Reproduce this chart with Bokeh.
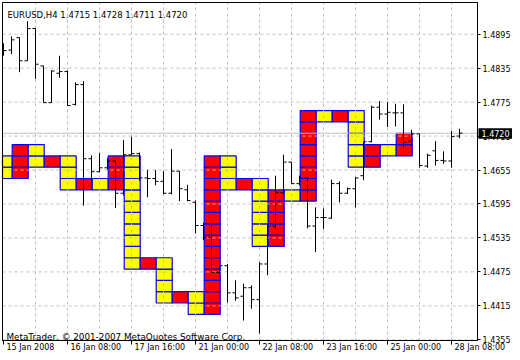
from bokeh.plotting import figure
from bokeh.models import Range1d, FixedTicker, PrintfTickFormatter, Label, LabelSet, ColumnDataSource, LinearAxis
from bokeh.core.properties import value
from bokeh.embed import file_html
from bokeh.resources import INLINE

# ---------------- data ----------------
symbol_caption = "EURUSD,H4  1.4715 1.4728 1.4711 1.4720"
copyright_text = "MetaTrader, \u00a9 2001-2007 MetaQuotes Software Corp."
last_price = 1.4720

opens = [1.4870, 1.4867, 1.4889, 1.4848, 1.4905, 1.4839, 1.4774, 1.4826, 1.4829, 1.4771,
         1.4806, 1.4675, 1.4652, 1.4659, 1.4671, 1.4614, 1.4682, 1.4684, 1.4641, 1.4640,
         1.4635, 1.4614, 1.4653, 1.4620, 1.4598, 1.4557, 1.4536, 1.4474, 1.4486, 1.4438,
         1.4432, 1.4447, 1.4426, 1.4489, 1.4556, 1.4615, 1.4669, 1.4631, 1.4641, 1.4556,
         1.4571, 1.4570, 1.4631, 1.4614, 1.4622, 1.4645, 1.4705, 1.4766, 1.4754, 1.4756,
         1.4756, 1.4706, 1.4719, 1.4662, 1.4689, 1.4672, 1.4671, 1.4715]
highs = [1.4879, 1.4891, 1.4889, 1.4918, 1.4905, 1.4839, 1.4831, 1.4857, 1.4831, 1.4810,
         1.4812, 1.4681, 1.4685, 1.4676, 1.4673, 1.4708, 1.4714, 1.4686, 1.4655, 1.4655,
         1.4653, 1.4692, 1.4653, 1.4629, 1.4601, 1.4562, 1.4561, 1.4488, 1.4489, 1.4460,
         1.4454, 1.4451, 1.4492, 1.4557, 1.4645, 1.4682, 1.4669, 1.4645, 1.4641, 1.4589,
         1.4587, 1.4638, 1.4635, 1.4624, 1.4642, 1.4705, 1.4769, 1.4777, 1.4775, 1.4772,
         1.4771, 1.4726, 1.4719, 1.4684, 1.4706, 1.4688, 1.4724, 1.4728]
lows = [1.4857, 1.4860, 1.4828, 1.4848, 1.4816, 1.4774, 1.4774, 1.4818, 1.4769, 1.4769,
        1.4592, 1.4631, 1.4651, 1.4656, 1.4588, 1.4610, 1.4682, 1.4636, 1.4607, 1.4628,
        1.4612, 1.4612, 1.4600, 1.4600, 1.4543, 1.4531, 1.4474, 1.4472, 1.4421, 1.4424,
        1.4389, 1.4410, 1.4366, 1.4469, 1.4551, 1.4613, 1.4631, 1.4628, 1.4552, 1.4510,
        1.4551, 1.4569, 1.4598, 1.4613, 1.4589, 1.4637, 1.4704, 1.4744, 1.4731, 1.4732,
        1.4695, 1.4698, 1.4659, 1.4659, 1.4663, 1.4666, 1.4659, 1.4711]
closes = [1.4866, 1.4885, 1.4848, 1.4905, 1.4842, 1.4774, 1.4830, 1.4829, 1.4769, 1.4806,
          1.4675, 1.4652, 1.4659, 1.4671, 1.4614, 1.4682, 1.4684, 1.4641, 1.4640, 1.4635,
          1.4614, 1.4653, 1.4622, 1.4601, 1.4557, 1.4536, 1.4474, 1.4486, 1.4438, 1.4429,
          1.4447, 1.4426, 1.4489, 1.4556, 1.4615, 1.4669, 1.4631, 1.4641, 1.4556, 1.4571,
          1.4571, 1.4631, 1.4614, 1.4622, 1.4641, 1.4705, 1.4766, 1.4754, 1.4757, 1.4756,
          1.4704, 1.4719, 1.4663, 1.4681, 1.4672, 1.4671, 1.4714, 1.4720]

# box columns (each spans two H4 bars), box size 20 pips
box_size = 0.002
box_low = [1.464, 1.464, 1.466, 1.466, 1.462, 1.462, 1.462, 1.462, 1.448, 1.448,
           1.442, 1.442, 1.440, 1.440, 1.462, 1.462, 1.452, 1.452, 1.460, 1.460,
           1.474, 1.474, 1.466, 1.466, 1.468, 1.468]
box_high = [1.468, 1.470, 1.470, 1.468, 1.468, 1.464, 1.464, 1.468, 1.468, 1.450,
            1.450, 1.444, 1.444, 1.468, 1.468, 1.464, 1.464, 1.462, 1.462, 1.476,
            1.476, 1.476, 1.476, 1.470, 1.470, 1.472]
box_kind = ["up", "down"] * 13

x_tick_bars = [0, 8, 16, 24, 32, 40, 48, 56]
x_tick_labels = ["15 Jan 2008", "16 Jan 08:00", "17 Jan 16:00", "21 Jan 00:00",
                 "22 Jan 08:00", "23 Jan 16:00", "25 Jan 00:00", "28 Jan 08:00"]
y_tick_values = [1.4355, 1.4415, 1.4475, 1.4535, 1.4595, 1.4655, 1.4715, 1.4775, 1.4835, 1.4895]

# ---------------- layout / styling ----------------
W, H = 512, 352
PX_PER_BAR = 8.0
BAR0_PX = 3.0
PX_PER_UNIT = 5659.0
REF_PRICE, REF_PX = 1.4355, 339.3

X0 = -BAR0_PX / PX_PER_BAR
X1 = X0 + W / PX_PER_BAR
Y1 = REF_PRICE + REF_PX / PX_PER_UNIT
Y0 = Y1 - H / PX_PER_UNIT


def px_x(px):
    return X0 + px / PX_PER_BAR


def px_y(py):
    return Y1 - py / PX_PER_UNIT


# chart window (inside the black frame)
VX0, VX1 = px_x(2), px_x(477)
VY0, VY1 = px_y(340), px_y(2)

FONT_NAME = "DejaVu Sans"
FS_AXIS = "8px"
FS_CAP = "8.5px"
GRID = "#C0C0C0"
TICK = 0.38
BOX_SHIFT = 0.09

p = figure(width=W, height=H, output_backend="svg", toolbar_location=None,
           x_range=Range1d(X0, X1), y_range=Range1d(Y0, Y1),
           x_axis_location=None, y_axis_location=None, min_border=0)
p.grid.visible = False
p.background_fill_color = "white"
p.border_fill_color = "white"
p.outline_line_color = None

# boxes
bl, br, bb, bt, bc = [], [], [], [], []
for k, (lo, hi, kind) in enumerate(zip(box_low, box_high, box_kind)):
    n = int(round((hi - lo) / box_size))
    left = max(2 * k - 1 + BOX_SHIFT, VX0)
    right = 2 * k + 1 + BOX_SHIFT
    for j in range(n):
        bl.append(left)
        br.append(right)
        bb.append(lo + j * box_size)
        bt.append(lo + (j + 1) * box_size)
        bc.append("#FFFF00" if kind == "up" else "#FF0000")
p.quad(left=bl, right=br, bottom=bb, top=bt, fill_color=bc, line_color="#0000FF",
       line_width=1.2, level="image")

# grid (dashed), bounded to chart window, drawn over the boxes
gx = list(range(4, 60, 4))
p.segment(x0=gx, y0=[VY0] * len(gx), x1=gx, y1=[VY1] * len(gx),
          line_color=GRID, line_dash="3 3", line_width=1, level="underlay")
p.segment(x0=[VX0] * len(y_tick_values), y0=y_tick_values, x1=[VX1] * len(y_tick_values),
          y1=y_tick_values, line_color=GRID, line_dash="3 3", line_width=1, level="underlay")

# bid line
p.segment(x0=[VX0], y0=[last_price], x1=[VX1], y1=[last_price], line_color=GRID,
          line_width=1, level="underlay")

# OHLC bars
xs = list(range(len(opens)))
p.segment(x0=xs, y0=lows, x1=xs, y1=highs, line_color="black", line_width=1)
p.segment(x0=[max(x - TICK, VX0) for x in xs], y0=opens, x1=xs, y1=opens,
          line_color="black", line_width=1)
p.segment(x0=xs, y0=closes, x1=[x + TICK for x in xs], y1=closes,
          line_color="black", line_width=1)

# frame
p.quad(left=[VX0], right=[VX1], bottom=[VY0], top=[VY1], fill_color=None,
       line_color="black", line_width=1)

# axes
xa = LinearAxis(fixed_location=VY0, bounds=(VX0, VX1),
                ticker=FixedTicker(ticks=x_tick_bars, minor_ticks=[]))
xa.major_label_overrides = {t: "" for t in x_tick_bars}
xa.major_label_text_font_size = "1px"
xa.major_label_standoff = 0
xa.major_tick_out = 4
xa.major_tick_in = 0
xa.minor_tick_out = 0
xa.axis_line_color = "black"
p.add_layout(xa, "below")

ya = LinearAxis(fixed_location=VX1, bounds=(VY0, VY1),
                ticker=FixedTicker(ticks=y_tick_values, minor_ticks=[]),
                formatter=PrintfTickFormatter(format="%.4f"))
ya.major_tick_out = 3
ya.major_tick_in = 0
ya.minor_tick_out = 0
ya.major_label_standoff = 2
ya.major_label_text_font = FONT_NAME
ya.major_label_text_font_size = FS_AXIS
ya.major_label_text_color = "black"
ya.axis_line_color = "black"
p.add_layout(ya, "right")

# x tick labels, left aligned just right of each tick
src = ColumnDataSource(dict(x=x_tick_bars, text=x_tick_labels))
p.add_layout(LabelSet(x="x", y=px_y(349.5), text="text", source=src,
                      text_align="left", text_baseline="alphabetic", x_offset=3,
                      text_font=value(FONT_NAME), text_font_size=FS_AXIS, text_color="black"))

# captions
p.add_layout(Label(x=px_x(7), y=px_y(14), text=symbol_caption,
                   text_baseline="alphabetic", text_align="left",
                   text_font=FONT_NAME, text_font_size=FS_CAP, text_color="black"))
p.add_layout(Label(x=px_x(6), y=px_y(336), text=copyright_text,
                   text_baseline="alphabetic", text_align="left",
                   text_font=FONT_NAME, text_font_size="8.8px", text_color="black"))

# current price tag
p.quad(left=[px_x(478)], right=[X1], bottom=[last_price - 5.5 / PX_PER_UNIT],
       top=[last_price + 5.0 / PX_PER_UNIT], fill_color="black", line_color=None,
       level="annotation")
p.add_layout(Label(x=VX1, y=last_price, x_offset=4, text=f"{last_price:.4f}",
                   text_baseline="middle", text_align="left", level="overlay",
                   text_font=FONT_NAME, text_font_size=FS_AXIS, text_color="white"))

open("out.html", "w").write(file_html(p, INLINE))
